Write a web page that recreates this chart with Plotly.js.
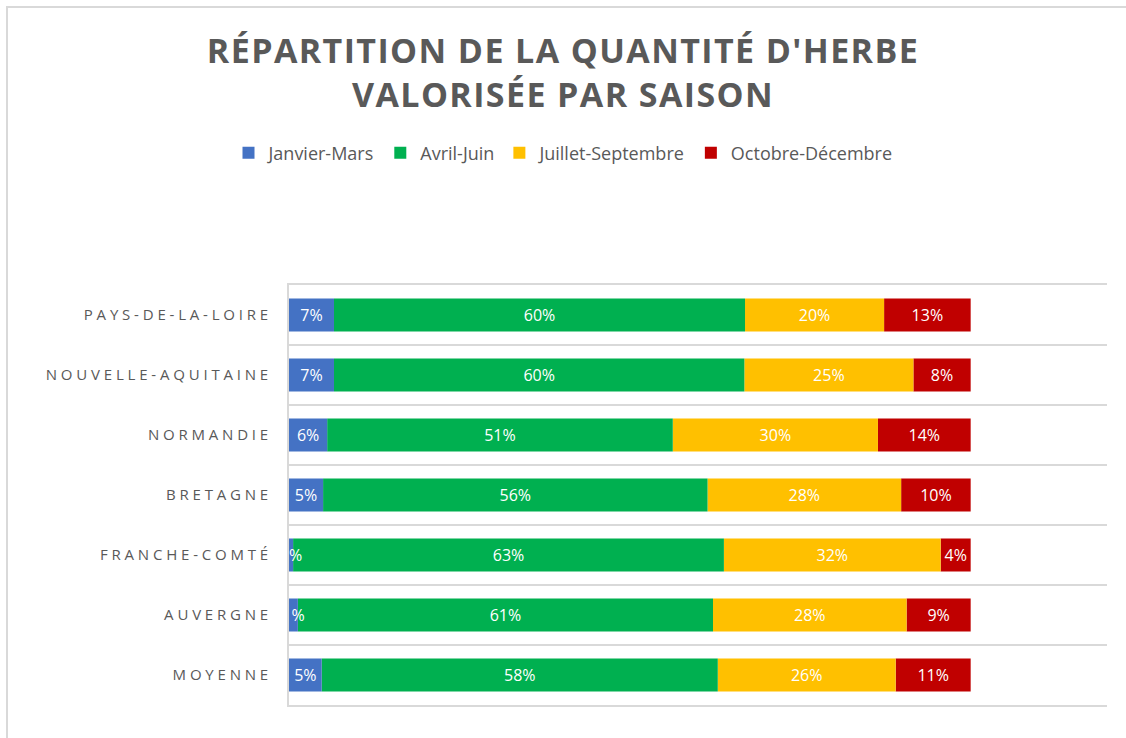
<!DOCTYPE html>
<html>
<head>
<meta charset="utf-8">
<script src="https://cdn.plot.ly/plotly-3.0.1.min.js"></script>
<style>
  html, body { margin: 0; padding: 0; background: #ffffff; overflow: hidden; }
  #frame { position: absolute; left: 6px; top: 6px; width: 1200px; height: 800px;
           border-left: 2px solid #d9d9d9; border-top: 2px solid #d9d9d9; pointer-events: none; }
  #chart { position: absolute; left: 0; top: 0; width: 1126px; height: 738px; }
  #chart .ytick text { letter-spacing: 3.8px; }
  #chart .gtitle { letter-spacing: 1.4px; }
</style>
</head>
<body>
<div id="chart"></div>
<div id="frame"></div>
<script>
// Categories, top to bottom
const regions = ["PAYS-DE-LA-LOIRE", "NOUVELLE-AQUITAINE", "NORMANDIE", "BRETAGNE", "FRANCHE-COMTÉ", "AUVERGNE", "MOYENNE"];

// Share of valorised grass per season (%)
const janvierMars      = [6.6, 6.6, 5.6, 5.0, 0.6, 1.3, 4.8];
const avrilJuin        = [60.3, 60.2, 50.7, 56.4, 63.2, 60.9, 58.1];
const juilletSeptembre = [20.4, 24.8, 30.1, 28.4, 31.8, 28.4, 26.1];
const octobreDecembre  = [12.7, 8.4, 13.6, 10.2, 4.4, 9.4, 11.0];

const seriesNames = ["Janvier-Mars", "Avril-Juin", "Juillet-Septembre", "Octobre-Décembre"];
const seriesValues = [janvierMars, avrilJuin, juilletSeptembre, octobreDecembre];
const seriesColors = ["#4472C4", "#00B050", "#FFC000", "#C00000"];

// cumulative bases (stacking)
const bases = [];
let running = regions.map(() => 0);
seriesValues.forEach(vals => {
  bases.push(running.slice());
  running = running.map((r, i) => r + vals[i]);
});

const traces = [];
for (let s = seriesValues.length - 1; s >= 0; s--) {
  traces.push({
    type: "bar",
    orientation: "h",
    name: seriesNames[s],
    y: regions,
    x: seriesValues[s],
    base: bases[s],
    width: 0.55,
    marker: { color: seriesColors[s], line: { width: 0 } },
    text: seriesValues[s].map(v => Math.round(v) + "%"),
    textposition: "inside",
    insidetextanchor: "middle",
    constraintext: "none",
    textangle: 0,
    textfont: { family: "Open Sans, sans-serif", size: 16, color: "#ffffff" },
    hoverinfo: "name+text"
  });
}

const layout = {
  width: 1126,
  height: 738,
  margin: { l: 289, r: 19, t: 285, b: 33 },
  paper_bgcolor: "rgba(0,0,0,0)",
  plot_bgcolor: "rgba(0,0,0,0)",
  barmode: "overlay",
  showlegend: true,
  title: {
    text: "RÉPARTITION DE LA QUANTITÉ D'HERBE<br>VALORISÉE PAR SAISON",
    font: { family: "Open Sans, sans-serif", size: 34, color: "#595959", weight: "bold" },
    x: 0.5, xref: "container", xanchor: "center",
    y: 1 - 63 / 738, yref: "container", yanchor: "middle"
  },
  legend: {
    orientation: "h",
    traceorder: "reversed",
    x: 0.5, xref: "container", xanchor: "center",
    y: 1 - 153 / 738, yref: "container", yanchor: "middle",
    font: { family: "Open Sans, sans-serif", size: 18, color: "#595959" },
    itemclick: false
  },
  xaxis: {
    range: [0, 120],
    showticklabels: false,
    showgrid: false,
    zeroline: false,
    showline: true,
    mirror: true,
    linecolor: "#d9d9d9",
    linewidth: 2,
    fixedrange: true
  },
  yaxis: {
    type: "category",
    autorange: "reversed",
    tickson: "boundaries",
    showgrid: true,
    gridcolor: "#d9d9d9",
    gridwidth: 2,
    showline: true,
    linecolor: "#d9d9d9",
    linewidth: 2,
    ticks: "",
    ticklabelstandoff: 12,
    tickfont: { family: "Open Sans, sans-serif", size: 15, color: "#595959" },
    fixedrange: true
  }
};

Plotly.newPlot("chart", traces, layout, { displayModeBar: false, staticPlot: true });
</script>
</body>
</html>
